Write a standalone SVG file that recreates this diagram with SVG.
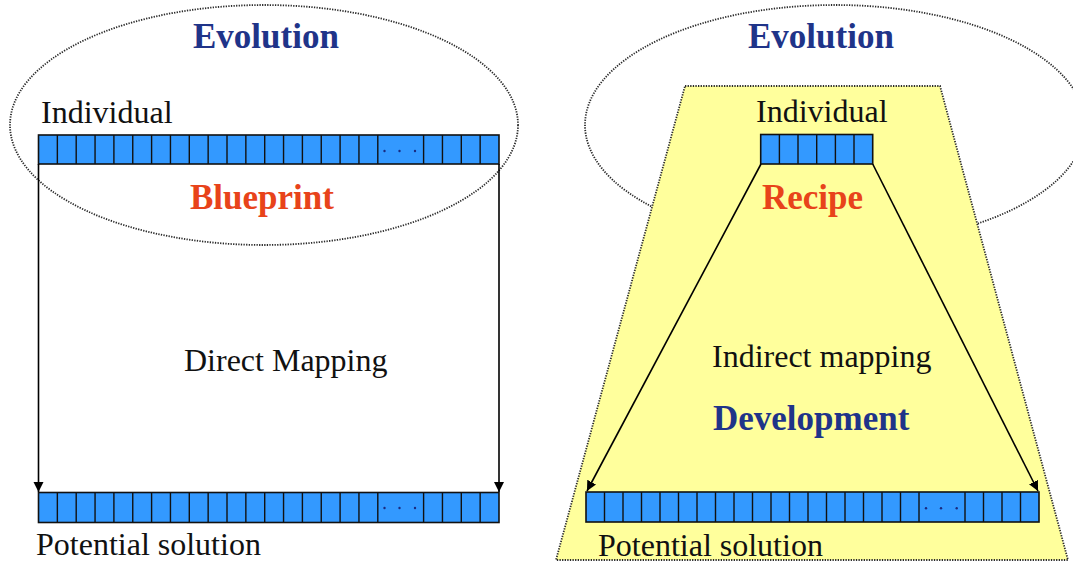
<svg xmlns="http://www.w3.org/2000/svg" width="1073" height="563" viewBox="0 0 1073 563">
  <defs>
    <marker id="arrow" markerUnits="userSpaceOnUse" markerWidth="12" markerHeight="12" refX="10" refY="5" orient="auto">
      <path d="M0,0 L10,5 L0,10 Z" fill="#000"/>
    </marker>
    <style>
      .dotted { fill: none; stroke: #2a2a2a; stroke-width: 1.8; stroke-dasharray: 1.3 1.3; }
      .bar { fill: #3399ff; stroke: #111; stroke-width: 1.6; }
      .div { stroke: #111; stroke-width: 1.4; fill: none; }
      .dot { fill: #1a2a80; }
      .txt { font-family: "Liberation Serif", "Times New Roman", Tinos, "DejaVu Serif", serif; font-size: 32px; font-weight: normal; fill: #111; }
      .bold { font-family: "Liberation Serif", "Times New Roman", Tinos, "DejaVu Serif", serif; font-size: 35px; font-weight: bold; }
      .navy { fill: #1f3489; }
      .red { fill: #e8431a; }
      .conn { stroke: #000; stroke-width: 1.6; fill: none; marker-end: url(#arrow); }
    </style>
  </defs>
  <rect width="1073" height="563" fill="#ffffff"/>

  <!-- right scope: evolution ellipse behind the development trapezoid -->
  <g id="evolution-right">
    <ellipse class="dotted" cx="835" cy="125" rx="250" ry="120"/>
  </g>
  <g id="development-area">
    <polygon class="dotted" points="685,86 940,86 1068,560 556,560" style="fill:#ffff9c"/>
  </g>

  <!-- left genome (individual) -->
  <g id="individual-left">
    <rect class="bar" x="38.5" y="135" width="460.5" height="29"/>
    <path class="div" d="M57.35,135V164 M76.2,135V164 M95.05,135V164 M113.9,135V164 M132.75,135V164 M151.6,135V164 M170.45,135V164 M189.3,135V164 M208.15,135V164 M227,135V164 M245.85,135V164 M264.7,135V164 M283.55,135V164 M302.4,135V164 M321.25,135V164 M340.1,135V164 M358.95,135V164 M377.8,135V164 M423.6,135V164 M442.45,135V164 M461.3,135V164 M480.15,135V164"/>
    <circle class="dot" cx="384.5" cy="151" r="1.2"/>
    <circle class="dot" cx="399.5" cy="151" r="1.2"/>
    <circle class="dot" cx="415" cy="151" r="1.2"/>
    <text class="txt" font-family="Liberation Serif, serif" x="41" y="123">Individual</text>
  </g>

  <!-- left genome (potential solution) -->
  <g id="solution-left">
    <rect class="bar" x="38.5" y="492.5" width="460.5" height="30"/>
    <path class="div" d="M57.35,492.5V522.5 M76.2,492.5V522.5 M95.05,492.5V522.5 M113.9,492.5V522.5 M132.75,492.5V522.5 M151.6,492.5V522.5 M170.45,492.5V522.5 M189.3,492.5V522.5 M208.15,492.5V522.5 M227,492.5V522.5 M245.85,492.5V522.5 M264.7,492.5V522.5 M283.55,492.5V522.5 M302.4,492.5V522.5 M321.25,492.5V522.5 M340.1,492.5V522.5 M358.95,492.5V522.5 M377.8,492.5V522.5 M423.6,492.5V522.5 M442.45,492.5V522.5 M461.3,492.5V522.5 M480.15,492.5V522.5"/>
    <circle class="dot" cx="384.5" cy="508" r="1.2"/>
    <circle class="dot" cx="399.5" cy="508" r="1.2"/>
    <circle class="dot" cx="415" cy="508" r="1.2"/>
    <text class="txt" x="36" y="555">Potential solution</text>
  </g>

  <!-- left evolution ellipse -->
  <g id="evolution-left">
    <ellipse class="dotted" cx="264" cy="125" rx="254" ry="120"/>
  </g>

  <!-- right genomes -->
  <g id="individual-right">
    <rect class="bar" x="760.7" y="134.5" width="112" height="29.5"/>
    <path class="div" d="M779.4,134.5V164 M798,134.5V164 M816.7,134.5V164 M835.4,134.5V164 M854,134.5V164"/>
    <text class="txt" x="756" y="122">Individual</text>
  </g>

  <g id="solution-right">
    <rect class="bar" x="586" y="492" width="453" height="30"/>
    <path class="div" d="M604.5,492V522 M623,492V522 M641.5,492V522 M660,492V522 M678.5,492V522 M697,492V522 M715.5,492V522 M734,492V522 M752.5,492V522 M771,492V522 M789.5,492V522 M808,492V522 M826.5,492V522 M845,492V522 M863.5,492V522 M882,492V522 M900.5,492V522 M919,492V522 M965,492V522 M983.5,492V522 M1002,492V522 M1020.5,492V522"/>
    <circle class="dot" cx="926" cy="508.3" r="1.2"/>
    <circle class="dot" cx="941" cy="508.3" r="1.2"/>
    <circle class="dot" cx="956.7" cy="508.3" r="1.2"/>
    <text class="txt" x="598" y="556">Potential solution</text>
  </g>

  <!-- mappings -->
  <g id="connectors">
    <line class="conn" x1="38.5" y1="164" x2="38.5" y2="492"/>
    <line class="conn" x1="499" y1="164" x2="499" y2="492"/>
    <line class="conn" x1="761" y1="164" x2="587" y2="491"/>
    <line class="conn" x1="872.7" y1="164" x2="1038" y2="491"/>
  </g>

  <!-- labels -->
  <g id="labels">
    <text class="bold navy" x="193" y="48">Evolution</text>
    <text class="bold red" x="190" y="209">Blueprint</text>
    <text class="txt" x="184" y="371">Direct Mapping</text>
    <text class="bold navy" x="748" y="48">Evolution</text>
    <text class="bold red" x="762" y="209">Recipe</text>
    <text class="txt" x="712" y="367">Indirect mapping</text>
    <text class="bold navy" x="713" y="430">Development</text>
  </g>
</svg>
